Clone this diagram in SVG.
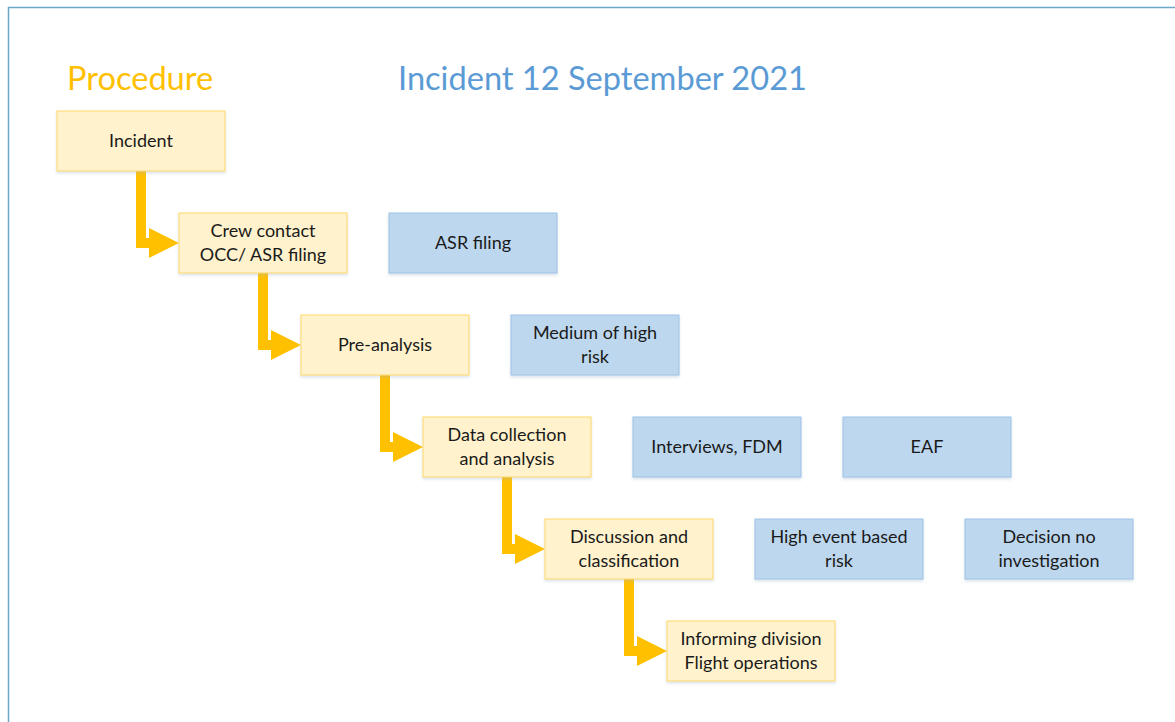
<svg xmlns="http://www.w3.org/2000/svg" width="1175" height="722" viewBox="0 0 1175 722">
  <style>
    .frame { fill: #ffffff; stroke: #6aa7c8; stroke-width: 1.5; }
    .step { fill: #fff2cc; stroke: #ffd966; stroke-width: 1; filter: url(#shadow); }
    .note { fill: #bdd7ee; stroke: #9dc3e6; stroke-width: 1; filter: url(#shadow); }
    .lbl { font-family: Lato, "Liberation Sans", sans-serif; font-size: 18px; fill: #1a1a1a; text-anchor: middle; }
    .title { font-family: Lato, "Liberation Sans", sans-serif; font-size: 32.6px; }
    .arrow { fill: #ffc000; }
  </style>
  <defs>
    <filter id="shadow" x="-10%" y="-10%" width="120%" height="130%">
      <feDropShadow dx="0" dy="2" stdDeviation="1.5" flood-color="#9db4c8" flood-opacity="0.35"/>
    </filter>
  </defs>

  <rect class="frame" x="8.5" y="7.5" width="1180" height="730"/>

  <text class="title" x="67" y="90" fill="#ffc000">Procedure</text>
  <text class="title" x="398" y="90" fill="#5b9bd5">Incident 12 September 2021</text>

  <!-- elbow arrows between procedure steps -->
  <g id="connectors">
    <polygon class="arrow" points="136,171 146,171 146,238 149,238 149,228 179,243 149,258 149,248 136,248"/>
    <polygon class="arrow" points="258,273 268,273 268,340 271,340 271,330 301,345 271,360 271,350 258,350"/>
    <polygon class="arrow" points="380,375 390,375 390,442 393,442 393,432 423,447 393,462 393,452 380,452"/>
    <polygon class="arrow" points="502,477 512,477 512,544 515,544 515,534 545,549 515,564 515,554 502,554"/>
    <polygon class="arrow" points="624,579 634,579 634,646 637,646 637,636 667,651 637,666 637,656 624,656"/>
  </g>

  <!-- procedure steps -->
  <g id="step-incident">
    <rect class="step" x="57" y="111" width="168" height="60"/>
    <text class="lbl" x="141" y="147">Incident</text>
  </g>
  <g id="step-crew-contact">
    <rect class="step" x="179" y="213" width="168" height="60"/>
    <text class="lbl" x="263" y="237">Crew contact</text>
    <text class="lbl" x="263" y="261">OCC/ ASR filing</text>
  </g>
  <g id="step-pre-analysis">
    <rect class="step" x="301" y="315" width="168" height="60"/>
    <text class="lbl" x="385" y="351">Pre-analysis</text>
  </g>
  <g id="step-data-collection">
    <rect class="step" x="423" y="417" width="168" height="60"/>
    <text class="lbl" x="507" y="441">Data collection</text>
    <text class="lbl" x="507" y="465">and analysis</text>
  </g>
  <g id="step-discussion">
    <rect class="step" x="545" y="519" width="168" height="60"/>
    <text class="lbl" x="629" y="543">Discussion and</text>
    <text class="lbl" x="629" y="567">classification</text>
  </g>
  <g id="step-informing">
    <rect class="step" x="667" y="621" width="168" height="60"/>
    <text class="lbl" x="751" y="645">Informing division</text>
    <text class="lbl" x="751" y="669">Flight operations</text>
  </g>

  <!-- incident details -->
  <g id="detail-asr-filing">
    <rect class="note" x="389" y="213" width="168" height="60"/>
    <text class="lbl" x="473" y="249">ASR filing</text>
  </g>
  <g id="detail-risk">
    <rect class="note" x="511" y="315" width="168" height="60"/>
    <text class="lbl" x="595" y="339">Medium of high</text>
    <text class="lbl" x="595" y="363">risk</text>
  </g>
  <g id="detail-interviews">
    <rect class="note" x="633" y="417" width="168" height="60"/>
    <text class="lbl" x="717" y="453">Interviews, FDM</text>
  </g>
  <g id="detail-eaf">
    <rect class="note" x="843" y="417" width="168" height="60"/>
    <text class="lbl" x="927" y="453">EAF</text>
  </g>
  <g id="detail-high-risk">
    <rect class="note" x="755" y="519" width="168" height="60"/>
    <text class="lbl" x="839" y="543">High event based</text>
    <text class="lbl" x="839" y="567">risk</text>
  </g>
  <g id="detail-decision">
    <rect class="note" x="965" y="519" width="168" height="60"/>
    <text class="lbl" x="1049" y="543">Decision no</text>
    <text class="lbl" x="1049" y="567">investigation</text>
  </g>
</svg>
